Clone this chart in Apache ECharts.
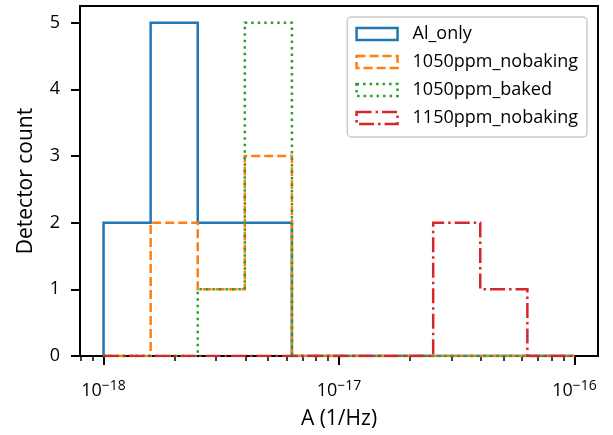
<!DOCTYPE html>
<html><head><meta charset="utf-8">
<script src="https://cdn.jsdelivr.net/npm/echarts@6/dist/echarts.min.js"></script>
<style>html,body{margin:0;padding:0;background:#fff}#c{width:613px;height:435px}</style>
</head><body><div id="c"></div>
<script>
const binEdges = [1.0e-18, 1.585e-18, 2.512e-18, 3.981e-18, 6.310e-18, 1.0e-17, 1.585e-17, 2.512e-17, 3.981e-17, 6.310e-17, 1.0e-16];
const seriesNames = ['Al_only', '1050ppm_nobaking', '1050ppm_baked', '1150ppm_nobaking'];
const countsAlOnly = [2, 5, 2, 2, 0, 0, 0, 0, 0, 0];
const counts1050NoBaking = [0, 2, 1, 3, 0, 0, 0, 0, 0, 0];
const counts1050Baked = [0, 0, 1, 5, 0, 0, 0, 0, 0, 0];
const counts1150NoBaking = [0, 0, 0, 0, 0, 0, 0, 2, 1, 0];
const xMajorTicks = [1e-18, 1e-17, 1e-16];
const xMinorTicks = [8e-19, 9e-19, 2e-18, 3e-18, 4e-18, 5e-18, 6e-18, 7e-18, 8e-18, 9e-18,
  2e-17, 3e-17, 4e-17, 5e-17, 6e-17, 7e-17, 8e-17, 9e-17];
const yTicks = [0, 1, 2, 3, 4, 5];
const xMin = 7.943e-19, xMax = 1.259e-16, yMin = 0, yMax = 5.25;

const FONT = 'Open Sans';
const colors = ['#1f77b4', '#ff7f0e', '#2ca02c', '#d62728'];
const dashes = ['solid', [9, 4], [2.5, 4], [15, 4, 2.5, 4]];
const allCounts = [countsAlOnly, counts1050NoBaking, counts1050Baked, counts1150NoBaking];

function stepPoints(edges, counts) {
  const pts = [[edges[0], 0]];
  for (let i = 0; i < counts.length; i++) {
    pts.push([edges[i], counts[i]]);
    pts.push([edges[i + 1], counts[i]]);
  }
  pts.push([edges[edges.length - 1], 0]);
  return pts;
}

const chart = echarts.init(document.getElementById('c'), null, {renderer: 'canvas'});
chart.setOption({
  animation: false,
  backgroundColor: '#fff',
  grid: {left: 80, right: 15, top: 6, bottom: 79, show: true, borderColor: '#000', borderWidth: 2, backgroundColor: 'transparent'},
  legend: {
    orient: 'vertical', right: 26, top: 17,
    itemWidth: 41, itemHeight: 12, itemGap: 10,
    padding: [8, 9, 10, 8],
    borderColor: '#cccccc', borderWidth: 1.5, borderRadius: 4, backgroundColor: '#fff',
    textStyle: {fontFamily: FONT, fontSize: 18, lineHeight: 16, color: '#000', padding: [0, 0, 0, 10]},
    data: seriesNames.map((n, i) => ({
      name: n, icon: 'rect',
      itemStyle: {color: 'rgba(0,0,0,0)', borderColor: colors[i], borderWidth: 2.5, borderType: dashes[i]}
    }))
  },
  xAxis: [{
    type: 'log', logBase: 10, min: xMin, max: xMax,
    name: 'A (1/Hz)', nameLocation: 'middle', nameGap: 53,
    nameTextStyle: {fontFamily: FONT, fontSize: 21, color: '#000'},
    axisLine: {lineStyle: {color: '#000', width: 2}},
    axisTick: {customValues: xMajorTicks, length: 9, lineStyle: {color: '#000', width: 2}},
    splitLine: {show: false},
    axisLabel: {
      customValues: xMajorTicks, margin: 23,
      formatter: v => '{b|10}{s|\u2212' + (-Math.round(Math.log10(v))) + '}',
      rich: {
        b: {fontFamily: FONT, fontSize: 18, lineHeight: 24, color: '#000'},
        s: {fontFamily: FONT, fontSize: 14, lineHeight: 14, verticalAlign: 'top', color: '#000'}
      }
    }
  }, {
    type: 'log', logBase: 10, min: xMin, max: xMax, position: 'bottom',
    axisLine: {show: false},
    axisTick: {customValues: xMinorTicks, length: 5, lineStyle: {color: '#000', width: 1.5}},
    axisLabel: {show: false},
    splitLine: {show: false}
  }],
  yAxis: {
    type: 'value', min: yMin, max: yMax,
    name: 'Detector count', nameLocation: 'middle', nameGap: 43,
    nameTextStyle: {fontFamily: FONT, fontSize: 21, color: '#000'},
    axisLine: {show: true, lineStyle: {color: '#000', width: 2}},
    axisTick: {show: true, customValues: yTicks, length: 9, lineStyle: {color: '#000', width: 2}},
    splitLine: {show: false},
    axisLabel: {customValues: yTicks, margin: 20, fontFamily: FONT, fontSize: 18, color: '#000'}
  },
  series: seriesNames.map((n, i) => ({
    name: n, type: 'line', xAxisIndex: 0,
    data: stepPoints(binEdges, allCounts[i]),
    symbol: 'none',
    color: colors[i],
    lineStyle: {color: colors[i], width: 2.5, type: dashes[i], cap: 'butt', join: 'miter'},
    z: 2 + i
  }))
});
</script></body></html>
